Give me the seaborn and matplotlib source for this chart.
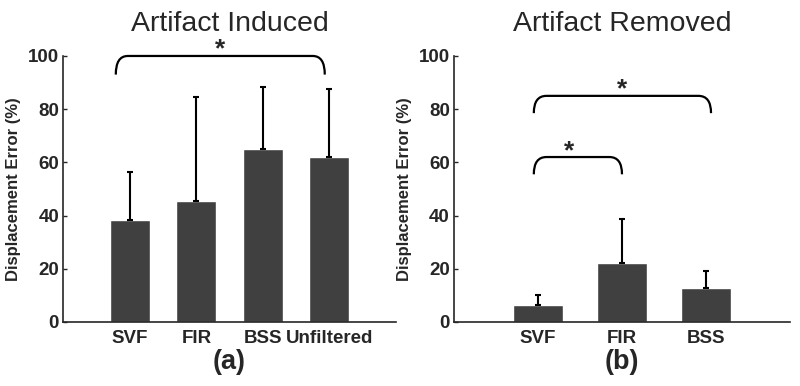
import matplotlib
matplotlib.use("Agg")
import matplotlib.pyplot as plt
import seaborn as sns
import pandas as pd
from matplotlib.path import Path
from matplotlib.patches import PathPatch

# panel (a) - artifact induced
induced_methods = ["SVF", "FIR", "BSS", "Unfiltered"]
induced_mean = [38.5, 45.5, 65.0, 62.0]
induced_sd = [18.0, 39.0, 23.5, 25.5]

# panel (b) - artifact removed
removed_methods = ["SVF", "FIR", "BSS"]
removed_mean = [6.2, 22.2, 12.8]
removed_sd = [3.8, 16.5, 6.2]

BAR_COLOR = "#404040"


def draw_bracket(ax, x1, x2, top, drop, corner, star_x=None):
    # rounded bracket used to mark significant differences
    verts = [(x1, top - drop), (x1, top), (x1 + corner, top),
             (x2 - corner, top),
             (x2, top), (x2, top - drop)]
    codes = [Path.MOVETO, Path.CURVE3, Path.CURVE3,
             Path.LINETO,
             Path.CURVE3, Path.CURVE3]
    ax.add_patch(PathPatch(Path(verts, codes), facecolor="none",
                           edgecolor="black", lw=1.6, clip_on=False))
    if star_x is None:
        star_x = (x1 + x2) / 2
    ax.text(star_x, top - 0.3, "*", ha="center", va="baseline",
            fontsize=19, fontweight="bold", clip_on=False)


def draw_panel(ax, methods, means, sds, title, letter):
    df = pd.DataFrame({"Method": methods, "Error": means})
    sns.barplot(data=df, x="Method", y="Error", color=BAR_COLOR,
                width=0.6, saturation=1, ax=ax, errorbar=None)
    ax.errorbar(range(len(methods)), means, yerr=[[0] * len(sds), sds],
                fmt="none", ecolor="black", elinewidth=1.5, capsize=2,
                capthick=1.5)
    ax.set_xlim(-1, len(methods))
    ax.set_ylim(0, 100)
    ax.set_yticks([0, 20, 40, 60, 80, 100])
    ax.set_xlabel("")
    ax.set_ylabel("Displacement Error (%)", fontsize=12, fontweight="bold",
                  labelpad=5)
    ax.set_title(title, fontsize=20.5, pad=18)
    ax.tick_params(axis="y", direction="in", length=3, width=1, pad=3,
                   labelsize=13.5)
    ax.tick_params(axis="x", length=0, pad=6, labelsize=13.5)
    for lab in ax.get_xticklabels() + ax.get_yticklabels():
        lab.set_fontweight("bold")
    sns.despine(ax=ax)
    for sp in ["left", "bottom"]:
        ax.spines[sp].set_linewidth(1.2)
    ax.text(0.5, -0.152, letter, transform=ax.transAxes, ha="center",
            va="center", fontsize=19.5, fontweight="bold")


sns.set_style("ticks")
plt.rcParams["font.family"] = ["Liberation Sans", "DejaVu Sans"]

fig = plt.figure(figsize=(8, 3.86), dpi=100)
ax1 = fig.add_axes([0.079, 0.166, 0.416, 0.689])
ax2 = fig.add_axes([0.5675, 0.166, 0.42, 0.689])

draw_panel(ax1, induced_methods, induced_mean, induced_sd,
           "Artifact Induced", "(a)")
draw_panel(ax2, removed_methods, removed_mean, removed_sd,
           "Artifact Removed", "(b)")

draw_bracket(ax1, -0.21, 2.93, 100, 7, 0.18)
draw_bracket(ax2, -0.05, 2.06, 85, 6.5, 0.15)
draw_bracket(ax2, -0.05, 1.0, 62, 6.5, 0.15, star_x=0.37)

fig.savefig("out.png", dpi=100)
